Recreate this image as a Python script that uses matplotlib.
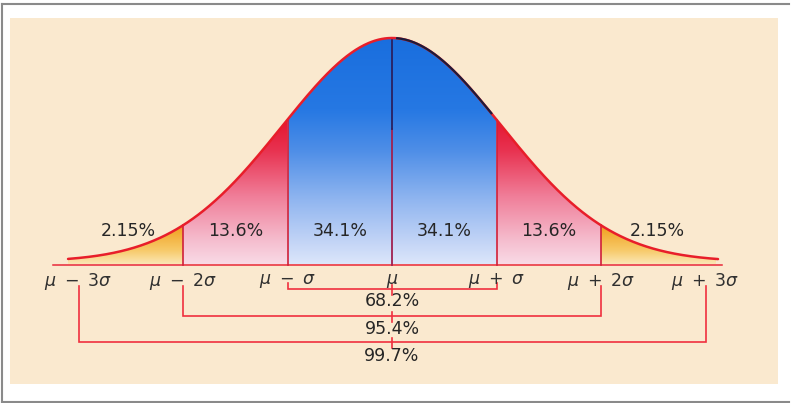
import numpy as np
import matplotlib
matplotlib.use('Agg')
import matplotlib.pyplot as plt
from matplotlib.patches import Polygon

# ---------------- data ----------------
sigma_marks = [-3, -2, -1, 0, 1, 2, 3]
axis_labels = [r'$\mu\ -\ 3\sigma$', r'$\mu\ -\ 2\sigma$', r'$\mu\ -\ \sigma$', r'$\mu$',
               r'$\mu\ +\ \sigma$', r'$\mu\ +\ 2\sigma$', r'$\mu\ +\ 3\sigma$']
region_bounds = [(-3.1, -2), (-2, -1), (-1, 0), (0, 1), (1, 2), (2, 3.1)]
region_pcts = ['2.15%', '13.6%', '34.1%', '34.1%', '13.6%', '2.15%']
region_label_x = [-2.52, -1.5, -0.5, 0.5, 1.5, 2.54]
region_kind = ['tail', 'mid', 'core', 'core', 'mid', 'tail']
interval_k = [1, 2, 3]
interval_pcts = ['68.2%', '95.4%', '99.7%']

# ---------------- layout helpers ----------------
W, H = 793, 403
fig = plt.figure(figsize=(W / 100, H / 100), dpi=100)
fig.patch.set_facecolor('white')

# outer grey frame
for (x0, y0, x1, y1) in [(2, 4, 789, 4), (2, 4, 2, 402), (2, 402, 789, 402)]:
    fig.add_artist(plt.Line2D([x0 / W, x1 / W], [1 - y0 / H, 1 - y1 / H],
                              transform=fig.transFigure, color='#8a8a8a', lw=1.5))

# panel axes (pixel box 10..778 x 18..384)
pl, pr, pt, pb = 10, 778, 18, 384
ax = fig.add_axes([pl / W, 1 - pb / H, (pr - pl) / W, (pb - pt) / H])
ax.set_facecolor('#fae9cf')
ax.set_xticks([]); ax.set_yticks([])
for s in ax.spines.values():
    s.set_visible(False)

cx, sx = 392.0, 104.5      # pixel of mu, pixels per sigma
base_px, peak_px = 264.5, 38.0
ppu = base_px - peak_px    # pixels per y unit


def py(p):
    return (base_px - p) / ppu


S_CURVE, C_OFF = 1.05, 0.012


def curve(z):
    return C_OFF + (1 - C_OFF) * np.exp(-np.asarray(z) ** 2 / (2 * S_CURVE ** 2))


stops = {
    'core': [(0.0, (220, 230, 251)), (0.1, (194, 212, 246)), (0.28, (145, 182, 240)),
             (0.5, (78, 142, 231)), (0.68, (38, 120, 227)), (1.0, (25, 110, 222))],
    'mid': [(0.0, (249, 218, 230)), (0.1, (245, 190, 207)), (0.3, (240, 125, 152)),
            (0.5, (232, 50, 80)), (0.65, (228, 18, 45)), (1.0, (228, 15, 42))],
    'tail': [(0.0, (251, 230, 180)), (0.06, (247, 202, 105)), (0.16, (241, 162, 35)),
             (1.0, (240, 150, 20))],
}


def gradient_img(kind, n=400):
    yy = np.linspace(0, 1.02, n)
    st = stops[kind]
    ys = [a for a, _ in st]
    img = np.zeros((n, 1, 3))
    for c in range(3):
        img[:, 0, c] = np.interp(yy, ys, [col[c] / 255 for _, col in st])
    return img


for (z0, z1), kind in zip(region_bounds, region_kind):
    zz = np.linspace(z0, z1, 200)
    verts = np.column_stack([np.r_[zz, z1, z0], np.r_[curve(zz), 0, 0]])
    poly = Polygon(verts, closed=True, facecolor='none', edgecolor='none',
                   transform=ax.transData)
    ax.add_patch(poly)
    im = ax.imshow(gradient_img(kind), extent=[z0, z1, 0, 1.02], origin='lower',
                   aspect='auto', interpolation='bilinear', zorder=1)
    im.set_clip_path(poly)

ax.set_xlim((pl - cx) / sx, (pr - cx) / sx)
ax.set_ylim(-(pb - base_px) / ppu, (base_px - pt) / ppu)

# baseline
ax.plot([(53 - cx) / sx, (722 - cx) / sx], [0, 0], color='#e8283a', lw=1.1, zorder=3)

# dividers
for z in [-2, -1, 1, 2]:
    ax.plot([z, z], [0, curve(z)], color='#d0203a', lw=1.2, zorder=3)
ax.plot([0, 0], [0, 0.6], color='#a02050', lw=1.3, zorder=3)
ax.plot([0, 0], [0.6, curve(0)], color='#2a2060', lw=1.3, zorder=3)

# curve
zc = np.linspace(-3.1, 3.12, 600)
ax.plot(zc, curve(zc), color='#e81e2a', lw=1.8, zorder=4, solid_capstyle='round')
zd = np.linspace(0.05, 0.95, 100)
ax.plot(zd, curve(zd), color='#1c1c3a', lw=1.6, zorder=5)

# region percentages
for x, t in zip(region_label_x, region_pcts):
    ax.text(x, py(231.5), t, ha='center', va='center', fontsize=12.5,
            color='#262626', zorder=6, family='DejaVu Sans')

# axis labels
for z, lab in zip(sigma_marks, axis_labels):
    ax.text(z, py(281), lab, ha='center', va='center', fontsize=12.5,
            color='#303030', zorder=6)

# interval brackets
br_y = {1: 289, 2: 316, 3: 342}
leg_top = {1: 283, 2: 286, 3: 286}
txt_y = {1: 301, 2: 329, 3: 356}
bc = '#f0303e'
for k, pct in zip(interval_k, interval_pcts):
    yb = py(br_y[k])
    yt = py(leg_top[k])
    ax.plot([-k, -k, k, k], [yt, yb, yb, yt], color=bc, lw=1.2, zorder=5,
            solid_joinstyle='miter')
    ax.plot([0, 0], [py(br_y[k] - 4), py(br_y[k] + 6)], color=bc, lw=1.2, zorder=5)
    ax.text(0, py(txt_y[k]), pct, ha='center', va='center', fontsize=12.5,
            color='#262626', zorder=6, family='DejaVu Sans')

fig.savefig('out.png', dpi=100, facecolor='white')
